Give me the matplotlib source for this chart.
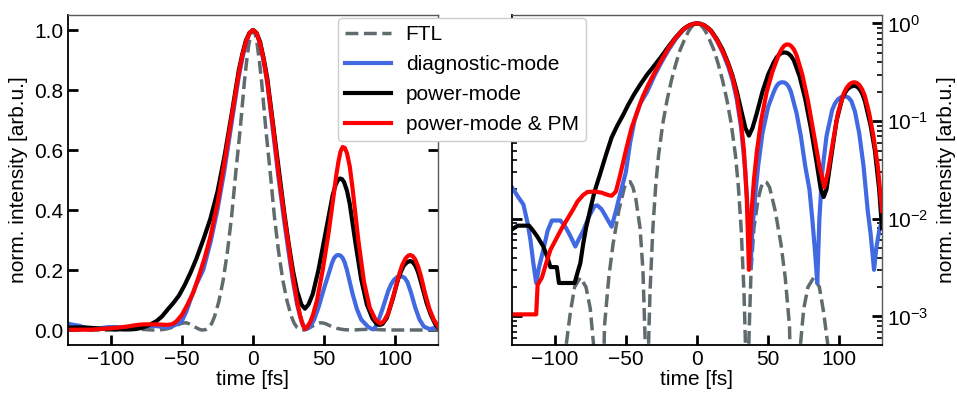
import matplotlib
matplotlib.use("Agg")
import matplotlib.pyplot as plt

plt.rcParams['font.family'] = ['Liberation Sans', 'DejaVu Sans']
plt.rcParams['mathtext.fontset'] = 'custom'
plt.rcParams['mathtext.rm'] = 'Liberation Sans'
plt.rcParams['mathtext.it'] = 'Liberation Sans:italic'

# ---------------- data ----------------
labels = ["FTL", "diagnostic-mode", "power-mode", "power-mode & PM"]
colors = ["#5f6b6d", "#4169e1", "black", "red"]

t_ftl = [-130, -95, -92, -89, -86, -82, -78, -75, -72, -69, -65, -62, -59, -55, -51,
         -49, -47, -45, -43, -40, -38, -36.5, -35.5, -34.5, -33, -31, -29, -27, -24,
         -21, -18, -15, -12, -9, -6, -4.5, -3, -1.5, 0, 1.5, 3, 4.5, 6, 9, 12, 15, 18,
         21, 24, 27, 29, 31, 33, 34.5, 35.5, 36.5, 38, 40, 43, 45, 47, 49, 51, 55, 59,
         62, 65, 69, 72, 75, 78, 82, 86, 89, 92, 95, 130]
v_ftl = [1e-6, 1e-6, 0.0005, 0.0011, 0.002, 0.0025, 0.002, 0.0012, 0.0004, 1e-6,
         0.0008, 0.0025, 0.0055, 0.012, 0.021, 0.0235, 0.024, 0.021, 0.016, 0.008,
         0.003, 0.0006, 1e-6, 0.0003, 0.0018, 0.008, 0.022, 0.045, 0.095, 0.165, 0.26,
         0.38, 0.53, 0.67, 0.83, 0.895, 0.95, 0.987, 1.0, 0.987, 0.95, 0.895, 0.83,
         0.67, 0.53, 0.38, 0.26, 0.165, 0.095, 0.045, 0.022, 0.008, 0.0018, 0.0003,
         1e-6, 0.0006, 0.003, 0.008, 0.016, 0.021, 0.024, 0.0235, 0.021, 0.012, 0.0055,
         0.0025, 0.0008, 1e-6, 0.0004, 0.0012, 0.002, 0.0025, 0.002, 0.0011, 0.0005,
         1e-6, 1e-6]

t_diag = [-130, -126, -122, -119, -117, -115, -113, -111, -108, -105, -102, -96, -93,
          -90, -87, -85.5, -83, -80, -76, -72, -70, -67, -64, -60, -57, -54, -50, -47,
          -44, -40, -35, -30, -25, -20, -15, -10, -7.5, -5, -2.5, 0, 2.5, 5, 7.5, 10,
          14, 18, 22, 25, 28, 31, 34, 36, 37.6, 39, 41, 43, 46, 50, 54, 55.5, 57, 58.5,
          60, 61.5, 63, 64.5, 66, 70, 73, 76, 79, 81, 83, 84.5, 86, 88, 91, 95, 97, 99,
          101.5, 104, 106.5, 108.5, 111, 114, 117, 120, 122, 124.4, 126, 128, 130]
v_diag = [0.021, 0.017, 0.014, 0.009, 0.006, 0.0035, 0.0022, 0.0032, 0.0048, 0.0075,
          0.0096, 0.0096, 0.0085, 0.0071, 0.0058, 0.0052, 0.0062, 0.0075, 0.0105,
          0.0135, 0.0137, 0.0125, 0.0105, 0.0083, 0.012, 0.018, 0.03, 0.06, 0.1, 0.15,
          0.2, 0.29, 0.4, 0.535, 0.69, 0.845, 0.905, 0.955, 0.99, 1.0, 0.99, 0.952,
          0.895, 0.825, 0.665, 0.505, 0.36, 0.26, 0.165, 0.085, 0.03, 0.01, 0.0032,
          0.008, 0.018, 0.035, 0.075, 0.14, 0.2, 0.223, 0.24, 0.248, 0.25, 0.248, 0.24,
          0.224, 0.2, 0.12, 0.07, 0.035, 0.02, 0.01, 0.0045, 0.0022, 0.01, 0.03, 0.07,
          0.13, 0.152, 0.167, 0.177, 0.18, 0.174, 0.16, 0.125, 0.075, 0.035, 0.012,
          0.007, 0.0030, 0.005, 0.0075, 0.0095]

t_pow = [-130, -126, -118, -115, -112, -108, -105, -103, -98.5, -97, -86, -84, -82, -80,
         -78, -75, -72, -68, -64, -60, -56, -52, -48, -44, -40, -35, -30, -25, -20, -15,
         -10, -7.5, -5, -2.5, 0, 2.5, 5, 7.5, 10, 14, 18, 22, 25, 28, 31, 34, 36.5, 39,
         42, 46, 50, 54, 56, 58, 59.5, 61, 62.5, 64, 66, 68, 72, 76, 80, 84, 87, 89, 91,
         94, 98, 102, 104, 106, 108.3, 110.5, 112.3, 114, 116, 118, 122, 125, 128, 130]
v_pow = [0.0078, 0.0085, 0.0085, 0.0075, 0.0065, 0.0052, 0.0040, 0.0032, 0.0032, 0.0022,
         0.0022, 0.0028, 0.0035, 0.0055, 0.008, 0.0125, 0.019, 0.029, 0.045, 0.068,
         0.09, 0.115, 0.15, 0.19, 0.235, 0.3, 0.37, 0.46, 0.58, 0.72, 0.865, 0.92,
         0.965, 0.99, 1.0, 0.99, 0.96, 0.905, 0.84, 0.69, 0.54, 0.39, 0.29, 0.2, 0.13,
         0.085, 0.071, 0.085, 0.12, 0.2, 0.3, 0.4, 0.45, 0.483, 0.498, 0.505, 0.503,
         0.493, 0.465, 0.42, 0.29, 0.17, 0.085, 0.038, 0.02, 0.0167, 0.02, 0.04, 0.1,
         0.17, 0.195, 0.215, 0.226, 0.23, 0.226, 0.215, 0.193, 0.16, 0.09, 0.05, 0.02,
         0.008]

t_pm = [-130, -113, -112, -109, -106, -103, -99, -95, -91, -87, -84, -80, -77, -72, -67,
        -63, -60, -57, -54, -50, -46, -42, -38, -34, -30, -25, -20, -15, -10, -7.5, -5,
        -2.5, 0, 2.5, 5, 7.5, 10, 14, 18, 22, 25, 28, 31, 33, 35, 36.5, 38, 40, 42, 45,
        49, 53, 57, 58.5, 60, 61.5, 63, 64.5, 66, 68, 70, 74, 78, 82, 86, 89.5, 92, 95,
        99, 103, 105, 107, 108.8, 110.5, 112.3, 114, 116, 118, 121, 124, 127, 130]
v_pm = [0.00105, 0.00105, 0.0021, 0.0025, 0.0035, 0.0048, 0.0062, 0.0080, 0.0100, 0.0125,
        0.0150, 0.0175, 0.0188, 0.0190, 0.0185, 0.0176, 0.0172, 0.019, 0.028, 0.05,
        0.085, 0.125, 0.18, 0.24, 0.31, 0.42, 0.56, 0.71, 0.855, 0.915, 0.96, 0.99,
        1.0, 0.99, 0.955, 0.9, 0.83, 0.68, 0.52, 0.38, 0.28, 0.18, 0.095, 0.05, 0.016,
        0.003, 0.01, 0.025, 0.048, 0.1, 0.2, 0.32, 0.46, 0.515, 0.56, 0.595, 0.61,
        0.607, 0.59, 0.545, 0.47, 0.3, 0.16, 0.075, 0.035, 0.021, 0.03, 0.055, 0.12,
        0.19, 0.218, 0.237, 0.247, 0.25, 0.246, 0.235, 0.212, 0.18, 0.12, 0.07, 0.035,
        0.012]

series = [(t_ftl, v_ftl), (t_diag, v_diag), (t_pow, v_pow), (t_pm, v_pm)]

lin_yticks = [0.0, 0.2, 0.4, 0.6, 0.8, 1.0]
xticks = [-100, -50, 0, 50, 100]
log_yticks = [1e-3, 1e-2, 1e-1, 1e0]

# ---------------- figure ----------------
W, H = 957, 398
fig = plt.figure(figsize=(W / 100, H / 100), dpi=100)
ax1 = fig.add_axes([68 / W, 1 - 345 / H, 370 / W, 330 / H])
ax2 = fig.add_axes([512 / W, 1 - 345 / H, 370 / W, 330 / H])

for ax in (ax1, ax2):
    for (t, v), c, lab in zip(series, colors, labels):
        if lab == 'FTL':
            ax.plot(t, v, color=c, lw=2.5, ls='--', label=lab)
        else:
            ax.plot(t, v, color=c, lw=3.0, ls='-', label=lab)
    ax.set_xlim(-130, 130)
    ax.set_xticks(xticks)
    ax.set_xlabel("time [fs]", fontsize=15, labelpad=1)
    for s in ('left', 'bottom'):
        ax.spines[s].set_color('black')
        ax.spines[s].set_linewidth(1.3)
    for s in ('top', 'right'):
        ax.spines[s].set_color('0.35')
        ax.spines[s].set_linewidth(1.0)
    ax.tick_params(which='major', direction='in', length=7, width=2,
                   left=True, right=True, top=False, bottom=True, labelsize=15)
    ax.tick_params(which='minor', direction='in', length=3.5, width=1.2,
                   left=True, right=True, top=False, bottom=False)

ax1.set_ylim(-0.05, 1.05)
ax1.set_yticks(lin_yticks)
ax1.set_ylabel("norm. intensity [arb.u.]", fontsize=15, labelpad=4)

ax2.set_yscale('log')
ax2.set_ylim(5.1e-4, 1.22)
ax2.set_yticks(log_yticks)
ax2.tick_params(labelleft=False, labelright=True)
ax2.yaxis.set_label_position('right')
ax2.set_ylabel("norm. intensity [arb.u.]", fontsize=15, labelpad=6)

handles, labs = ax1.get_legend_handles_labels()
fig.legend(handles, labs, loc='upper left', bbox_to_anchor=(338 / W, 1 - 18 / H),
           fontsize=15, framealpha=1, edgecolor='0.8', borderaxespad=0,
           handlelength=2.2, handletextpad=0.7, labelspacing=0.52, borderpad=0.35)

fig.savefig("out.png", dpi=100)
